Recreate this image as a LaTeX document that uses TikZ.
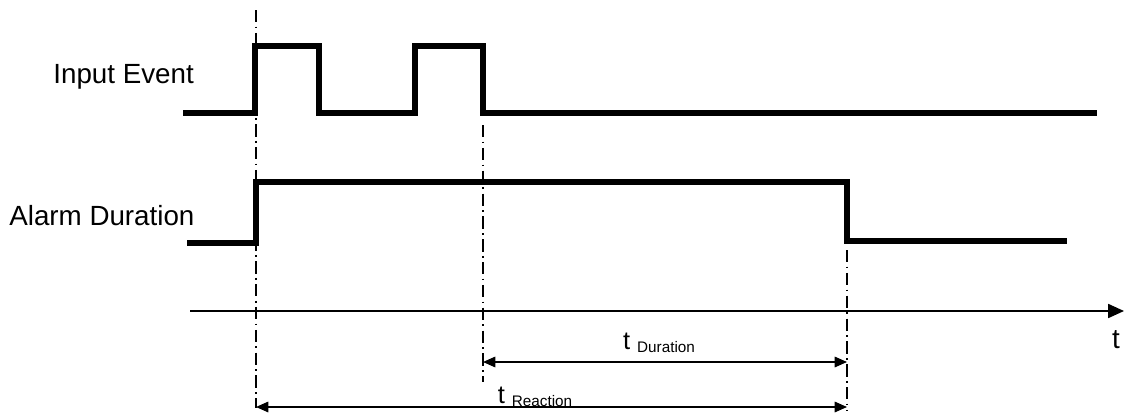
\documentclass[tikz,border=0pt]{standalone}
\usepackage{fontspec}
\setmainfont{Liberation Sans}
\usetikzlibrary{arrows.meta, positioning}

\begin{document}
\begin{tikzpicture}[x=0.02cm, y=-0.02cm,
  signal/.style={line width=2.9pt, line join=miter},
  marker/.style={line width=1.3pt, dash pattern=on 7pt off 2.5pt on 1pt off 2.5pt},
  span/.style={line width=0.8pt, {Triangle[length=7pt,width=6pt]}-{Triangle[length=7pt,width=6pt]}},
  lbl/.style={font=\fontsize{15.8}{18}\selectfont, inner sep=0pt},
  sub/.style={font=\fontsize{14.5}{16}\selectfont, inner sep=0pt}
]
  \useasboundingbox (0,0) rectangle (1133,416);

  % markers
  \coordinate (ma1) at (256,10);   \coordinate (ma2) at (256,408);
  \coordinate (mb1) at (483,125);  \coordinate (mb2) at (483,382);
  \coordinate (mc1) at (847,250);  \coordinate (mc2) at (847,410);
  \draw[marker] (ma1) -- (ma2);
  \draw[marker] (mb1) -- (mb2);
  \draw[marker] (mc1) -- (mc2);

  % signals
  \draw[signal] (183,113) -- (255,113) -- (255,46) -- (319,46) -- (319,113)
    -- (415,113) -- (415,46) -- (483,46) -- (483,113) -- (1097,113);
  \draw[signal] (187,243) -- (256,243) -- (256,182) -- (847,182) -- (847,241)
    -- (1067,241);

  \node[lbl, anchor=west] (input) at (53,77) {Input Event};
  \node[lbl, anchor=west] (alarm) at (9,216) {Alarm Duration};

  % time axis
  \coordinate (ax0) at (190,311);
  \coordinate (ax1) at (1124,311);
  \draw[line width=0.8pt, -{Triangle[length=9pt,width=8pt]}] (ax0) -- (ax1);
  \node[lbl] (tlab) at (1116,340) {t};

  % durations
  \coordinate (d0) at (483,362);  \coordinate (d1) at (847,362);
  \coordinate (r0) at (256,407);  \coordinate (r1) at (847,407);
  \draw[span] (d0) -- (d1);
  \draw[span] (r0) -- (r1);
  \node[sub] (tdur) at (659,343) {t {\fontsize{8.7}{10}\selectfont\raisebox{-2pt}{Duration}}};
  \node[sub] (trea) at (535,397) {t {\fontsize{8.7}{10}\selectfont\raisebox{-2pt}{Reaction}}};
\end{tikzpicture}
\end{document}
